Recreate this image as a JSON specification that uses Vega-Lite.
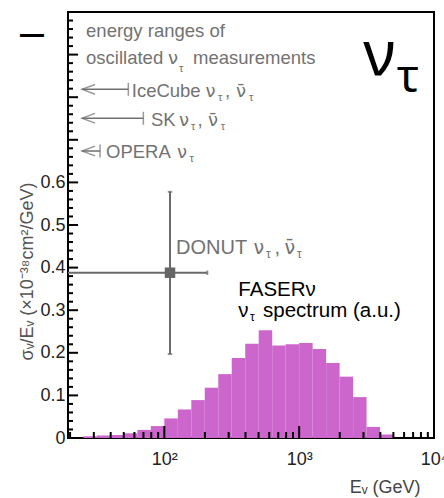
{
  "$schema": "https://vega.github.io/schema/vega-lite/v6.json",
  "width": 366,
  "height": 426,
  "autosize": {"type": "none"},
  "padding": {"left": 68, "top": 12, "right": 10, "bottom": 60},
  "background": "white",
  "config": {
    "view": {"stroke": "black", "strokeWidth": 2},
    "font": "Liberation Sans",
    "axis": {"domain": false, "grid": false, "ticks": false}
  },
  "datasets": {
    "hist": [
      {"lo": 25.12, "hi": 31.62, "v": 0.004},
      {"lo": 31.62, "hi": 39.81, "v": 0.006},
      {"lo": 39.81, "hi": 50.12, "v": 0.007},
      {"lo": 50.12, "hi": 63.10, "v": 0.011},
      {"lo": 63.10, "hi": 79.43, "v": 0.019},
      {"lo": 79.43, "hi": 100.0, "v": 0.028},
      {"lo": 100.0, "hi": 125.9, "v": 0.046},
      {"lo": 125.9, "hi": 158.5, "v": 0.067},
      {"lo": 158.5, "hi": 199.5, "v": 0.089},
      {"lo": 199.5, "hi": 251.2, "v": 0.118},
      {"lo": 251.2, "hi": 316.2, "v": 0.150},
      {"lo": 316.2, "hi": 398.1, "v": 0.188},
      {"lo": 398.1, "hi": 501.2, "v": 0.221},
      {"lo": 501.2, "hi": 631.0, "v": 0.253},
      {"lo": 631.0, "hi": 794.3, "v": 0.217},
      {"lo": 794.3, "hi": 1000, "v": 0.220},
      {"lo": 1000, "hi": 1259, "v": 0.223},
      {"lo": 1259, "hi": 1585, "v": 0.209},
      {"lo": 1585, "hi": 1995, "v": 0.176},
      {"lo": 1995, "hi": 2512, "v": 0.144},
      {"lo": 2512, "hi": 3162, "v": 0.096},
      {"lo": 3162, "hi": 3981, "v": 0.026},
      {"lo": 3981, "hi": 5012, "v": 0.008}
    ],
    "xmajor": [{"v": 100}, {"v": 1000}],
    "xminor": [
      {"v": 20}, {"v": 30}, {"v": 40}, {"v": 50}, {"v": 60}, {"v": 70}, {"v": 80}, {"v": 90},
      {"v": 200}, {"v": 300}, {"v": 400}, {"v": 500}, {"v": 600}, {"v": 700}, {"v": 800}, {"v": 900},
      {"v": 2000}, {"v": 3000}, {"v": 4000}, {"v": 5000}, {"v": 6000}, {"v": 7000}, {"v": 8000}, {"v": 9000}
    ],
    "ymajor": [{"v": 0.1}, {"v": 0.2}, {"v": 0.3}, {"v": 0.4}, {"v": 0.5}, {"v": 0.6}, {"v": 0.7}, {"v": 0.8}, {"v": 0.9}],
    "yminor": [
      {"v": 0.02}, {"v": 0.04}, {"v": 0.06}, {"v": 0.08}, {"v": 0.12}, {"v": 0.14}, {"v": 0.16}, {"v": 0.18},
      {"v": 0.22}, {"v": 0.24}, {"v": 0.26}, {"v": 0.28}, {"v": 0.32}, {"v": 0.34}, {"v": 0.36}, {"v": 0.38},
      {"v": 0.42}, {"v": 0.44}, {"v": 0.46}, {"v": 0.48}, {"v": 0.52}, {"v": 0.54}, {"v": 0.56}, {"v": 0.58},
      {"v": 0.62}, {"v": 0.64}, {"v": 0.66}, {"v": 0.68}, {"v": 0.72}, {"v": 0.74}, {"v": 0.76}, {"v": 0.78},
      {"v": 0.82}, {"v": 0.84}, {"v": 0.86}, {"v": 0.88}, {"v": 0.92}, {"v": 0.94}, {"v": 0.96}, {"v": 0.98}
    ],
    "donut": [
      {"x": 110.2, "y": 0.388, "ylo": 0.197, "yhi": 0.578, "xlo": 19.3, "xhi": 208.4}
    ],
    "arrows": [
      {"exp": "IceCube", "tip": 24.53, "bar": 54.08, "y": 0.8185},
      {"exp": "SK", "tip": 24.53, "bar": 69.88, "y": 0.7505},
      {"exp": "OPERA", "tip": 24.53, "bar": 33.37, "y": 0.6737}
    ],
    "labels": [
      {"role": "g", "t": "energy ranges of", "x": 26.27, "y": 0.9413},
      {"role": "g", "t": "oscillated", "x": 26.27, "y": 0.8779},
      {"role": "gn", "t": "ν", "x": 106.5, "y": 0.8779},
      {"role": "gs", "t": "τ", "x": 128.5, "y": 0.8599},
      {"role": "g", "t": "measurements", "x": 163.3, "y": 0.8779},
      {"role": "g", "t": "IceCube", "x": 57.33, "y": 0.8012},
      {"role": "gn", "t": "ν", "x": 202.1, "y": 0.8012},
      {"role": "gs", "t": "τ", "x": 250.2, "y": 0.7918},
      {"role": "g", "t": ",", "x": 281.8, "y": 0.8012},
      {"role": "gn", "t": "ν̄", "x": 340.2, "y": 0.8012},
      {"role": "gs", "t": "τ", "x": 424.8, "y": 0.7918},
      {"role": "g", "t": "SK", "x": 79.67, "y": 0.7324},
      {"role": "gn", "t": "ν", "x": 128.5, "y": 0.7324},
      {"role": "gs", "t": "τ", "x": 157.8, "y": 0.7230},
      {"role": "g", "t": ",", "x": 176.3, "y": 0.7324},
      {"role": "gn", "t": "ν̄", "x": 210.9, "y": 0.7324},
      {"role": "gs", "t": "τ", "x": 262.0, "y": 0.7230},
      {"role": "g", "t": "OPERA", "x": 36.96, "y": 0.6566},
      {"role": "gn", "t": "ν", "x": 124.2, "y": 0.6566},
      {"role": "gs", "t": "τ", "x": 153.8, "y": 0.6472},
      {"role": "d", "t": "DONUT", "x": 122.1, "y": 0.4312},
      {"role": "dn", "t": "ν", "x": 458.7, "y": 0.4312},
      {"role": "ds", "t": "τ", "x": 567.8, "y": 0.4215},
      {"role": "d", "t": ",", "x": 656.6, "y": 0.4312},
      {"role": "dn", "t": "ν̄", "x": 778.6, "y": 0.4312},
      {"role": "ds", "t": "τ", "x": 964.0, "y": 0.4215},
      {"role": "k", "t": "FASERν", "x": 353.9, "y": 0.3326},
      {"role": "k", "t": "ν", "x": 353.9, "y": 0.2847},
      {"role": "ks", "t": "τ", "x": 432.0, "y": 0.2754},
      {"role": "k", "t": "spectrum (a.u.)", "x": 539.3, "y": 0.2847},
      {"role": "big", "t": "ν", "x": 2990, "y": 0.8521},
      {"role": "bigs", "t": "τ", "x": 5290, "y": 0.8129},
      {"role": "dash", "t": "—", "x": 8.37, "y": 0.928}
    ]
  },
  "layer": [
    {
      "data": {"name": "hist"},
      "mark": {"type": "rect", "color": "#cc66cc"},
      "encoding": {
        "x": {
          "field": "lo", "type": "quantitative",
          "scale": {"type": "log", "domain": [19.3, 10000], "nice": false},
          "axis": {
            "orient": "bottom", "values": [100, 1000, 10000],
            "ticks": false,
            "labelExpr": "datum.value == 100 ? '10²' : datum.value == 1000 ? '10³' : '10⁴'",
            "labelFontSize": 18, "labelColor": "#222", "labelPadding": 12,
            "labelFlush": false, "labelOverlap": false, "labelBound": false,
            "title": "Eᵥ (GeV)", "titleFontSize": 18, "titleFontWeight": "normal",
            "titleColor": "#444", "titleX": 352, "titleY": 49,
            "titleAlign": "right", "titleBaseline": "middle"
          }
        },
        "x2": {"field": "hi"},
        "y": {
          "field": "v", "type": "quantitative",
          "scale": {"domain": [0, 1], "nice": false},
          "axis": {
            "orient": "left",
            "values": [0, 0.1, 0.2, 0.3, 0.4, 0.5, 0.6],
            "ticks": false,
            "labelExpr": "datum.value == 0 ? '0' : format(datum.value, '.1f')",
            "labelFontSize": 18, "labelColor": "#222", "labelPadding": 3,
            "labelOverlap": false, "labelBound": false,
            "title": "σᵥ/Eᵥ (×10⁻³⁸cm²/GeV)", "titleFontSize": 18, "titleFontWeight": "normal",
            "titleColor": "#555", "titleX": -41, "titleY": 259, "titleAngle": -90,
            "titleAlign": "center", "titleBaseline": "middle"
          }
        },
        "y2": {"datum": 0}
      }
    },
    {
      "data": {"name": "xmajor"},
      "mark": {"type": "rule", "color": "#000000", "strokeWidth": 2},
      "encoding": {
        "x": {"field": "v", "type": "quantitative"},
        "y": {"datum": 0},
        "y2": {"datum": 0.0282}
      }
    },
    {
      "data": {"name": "xminor"},
      "mark": {"type": "rule", "color": "#000000", "strokeWidth": 2},
      "encoding": {
        "x": {"field": "v", "type": "quantitative"},
        "y": {"datum": 0},
        "y2": {"datum": 0.0141}
      }
    },
    {
      "data": {"name": "ymajor"},
      "mark": {"type": "rule", "color": "#000000", "strokeWidth": 2},
      "encoding": {
        "y": {"field": "v", "type": "quantitative"},
        "x": {"datum": 19.3},
        "x2": {"datum": 22.92}
      }
    },
    {
      "data": {"name": "yminor"},
      "mark": {"type": "rule", "color": "#000000", "strokeWidth": 2},
      "encoding": {
        "y": {"field": "v", "type": "quantitative"},
        "x": {"datum": 19.3},
        "x2": {"datum": 21.03}
      }
    },
    {
      "data": {"name": "donut"},
      "mark": {"type": "rule", "color": "#6a6a6a", "strokeWidth": 2},
      "encoding": {
        "x": {"field": "xlo", "type": "quantitative"},
        "x2": {"field": "xhi"},
        "y": {"field": "y", "type": "quantitative"}
      }
    },
    {
      "data": {"name": "donut"},
      "mark": {"type": "rule", "color": "#6a6a6a", "strokeWidth": 2},
      "encoding": {
        "x": {"field": "x", "type": "quantitative"},
        "y": {"field": "ylo", "type": "quantitative"},
        "y2": {"field": "yhi"}
      }
    },
    {
      "data": {"name": "donut"},
      "mark": {"type": "point", "shape": "M -1 0 L 1 0", "size": 20, "filled": false, "color": "#6a6a6a", "strokeWidth": 2},
      "encoding": {
        "x": {"field": "x", "type": "quantitative"},
        "y": {"field": "yhi", "type": "quantitative"}
      }
    },
    {
      "data": {"name": "donut"},
      "mark": {"type": "point", "shape": "M -1 0 L 1 0", "size": 20, "filled": false, "color": "#6a6a6a", "strokeWidth": 2},
      "encoding": {
        "x": {"field": "x", "type": "quantitative"},
        "y": {"field": "ylo", "type": "quantitative"}
      }
    },
    {
      "data": {"name": "donut"},
      "mark": {"type": "point", "shape": "M 0 -1 L 0 1", "size": 20, "filled": false, "color": "#6a6a6a", "strokeWidth": 2},
      "encoding": {
        "x": {"field": "xhi", "type": "quantitative"},
        "y": {"field": "y", "type": "quantitative"}
      }
    },
    {
      "data": {"name": "donut"},
      "mark": {"type": "point", "shape": "square", "size": 110, "filled": true, "color": "#666666", "opacity": 1},
      "encoding": {
        "x": {"field": "x", "type": "quantitative"},
        "y": {"field": "y", "type": "quantitative"}
      }
    },
    {
      "data": {"name": "arrows"},
      "mark": {"type": "rule", "color": "#707070", "strokeWidth": 1.5},
      "encoding": {
        "x": {"field": "tip", "type": "quantitative"},
        "x2": {"field": "bar"},
        "y": {"field": "y", "type": "quantitative"}
      }
    },
    {
      "data": {"name": "arrows"},
      "mark": {"type": "point", "shape": "M 0 -1 L 0 1", "size": 169, "filled": false, "color": "#707070", "strokeWidth": 1.5},
      "encoding": {
        "x": {"field": "bar", "type": "quantitative"},
        "y": {"field": "y", "type": "quantitative"}
      }
    },
    {
      "data": {"name": "arrows"},
      "mark": {"type": "point", "shape": "M 2 -0.75 L 0 0 L 2 0.75", "size": 169, "filled": false, "color": "#707070", "strokeWidth": 1.5},
      "encoding": {
        "x": {"field": "tip", "type": "quantitative"},
        "y": {"field": "y", "type": "quantitative"}
      }
    },
    {
      "data": {"name": "labels"},
      "transform": [{"filter": "datum.role == 'g'"}],
      "mark": {"type": "text", "align": "left", "baseline": "alphabetic", "fontSize": 18.5, "color": "#727272", "font": "Liberation Sans"},
      "encoding": {
        "x": {"field": "x", "type": "quantitative"},
        "y": {"field": "y", "type": "quantitative"},
        "text": {"field": "t"}
      }
    },
    {
      "data": {"name": "labels"},
      "transform": [{"filter": "datum.role == 'gn'"}],
      "mark": {"type": "text", "align": "left", "baseline": "alphabetic", "fontSize": 18, "color": "#727272", "font": "DejaVu Sans"},
      "encoding": {
        "x": {"field": "x", "type": "quantitative"},
        "y": {"field": "y", "type": "quantitative"},
        "text": {"field": "t"}
      }
    },
    {
      "data": {"name": "labels"},
      "transform": [{"filter": "datum.role == 'gs'"}],
      "mark": {"type": "text", "align": "left", "baseline": "alphabetic", "fontSize": 11, "color": "#727272", "font": "Liberation Sans"},
      "encoding": {
        "x": {"field": "x", "type": "quantitative"},
        "y": {"field": "y", "type": "quantitative"},
        "text": {"field": "t"}
      }
    },
    {
      "data": {"name": "labels"},
      "transform": [{"filter": "datum.role == 'd'"}],
      "mark": {"type": "text", "align": "left", "baseline": "alphabetic", "fontSize": 20, "color": "#727272", "font": "Liberation Sans"},
      "encoding": {
        "x": {"field": "x", "type": "quantitative"},
        "y": {"field": "y", "type": "quantitative"},
        "text": {"field": "t"}
      }
    },
    {
      "data": {"name": "labels"},
      "transform": [{"filter": "datum.role == 'dn'"}],
      "mark": {"type": "text", "align": "left", "baseline": "alphabetic", "fontSize": 19, "color": "#727272", "font": "DejaVu Sans"},
      "encoding": {
        "x": {"field": "x", "type": "quantitative"},
        "y": {"field": "y", "type": "quantitative"},
        "text": {"field": "t"}
      }
    },
    {
      "data": {"name": "labels"},
      "transform": [{"filter": "datum.role == 'ds'"}],
      "mark": {"type": "text", "align": "left", "baseline": "alphabetic", "fontSize": 12, "color": "#727272", "font": "Liberation Sans"},
      "encoding": {
        "x": {"field": "x", "type": "quantitative"},
        "y": {"field": "y", "type": "quantitative"},
        "text": {"field": "t"}
      }
    },
    {
      "data": {"name": "labels"},
      "transform": [{"filter": "datum.role == 'k'"}],
      "mark": {"type": "text", "align": "left", "baseline": "alphabetic", "fontSize": 20.5, "color": "#000000", "font": "Liberation Sans"},
      "encoding": {
        "x": {"field": "x", "type": "quantitative"},
        "y": {"field": "y", "type": "quantitative"},
        "text": {"field": "t"}
      }
    },
    {
      "data": {"name": "labels"},
      "transform": [{"filter": "datum.role == 'ks'"}],
      "mark": {"type": "text", "align": "left", "baseline": "alphabetic", "fontSize": 12, "color": "#000000", "font": "Liberation Sans"},
      "encoding": {
        "x": {"field": "x", "type": "quantitative"},
        "y": {"field": "y", "type": "quantitative"},
        "text": {"field": "t"}
      }
    },
    {
      "data": {"name": "labels"},
      "transform": [{"filter": "datum.role == 'big'"}],
      "mark": {"type": "text", "align": "left", "baseline": "alphabetic", "fontSize": 62, "color": "#000000", "font": "Noto Sans"},
      "encoding": {
        "x": {"field": "x", "type": "quantitative"},
        "y": {"field": "y", "type": "quantitative"},
        "text": {"field": "t"}
      }
    },
    {
      "data": {"name": "labels"},
      "transform": [{"filter": "datum.role == 'bigs'"}],
      "mark": {"type": "text", "align": "left", "baseline": "alphabetic", "fontSize": 46, "color": "#000000", "font": "Noto Sans"},
      "encoding": {
        "x": {"field": "x", "type": "quantitative"},
        "y": {"field": "y", "type": "quantitative"},
        "text": {"field": "t"}
      }
    },
    {
      "data": {"name": "labels"},
      "transform": [{"filter": "datum.role == 'dash'"}],
      "mark": {"type": "text", "align": "left", "baseline": "alphabetic", "fontSize": 26, "fontWeight": "bold", "color": "#000000", "font": "Noto Sans"},
      "encoding": {
        "x": {"field": "x", "type": "quantitative"},
        "y": {"field": "y", "type": "quantitative"},
        "text": {"field": "t"}
      }
    }
  ]
}
